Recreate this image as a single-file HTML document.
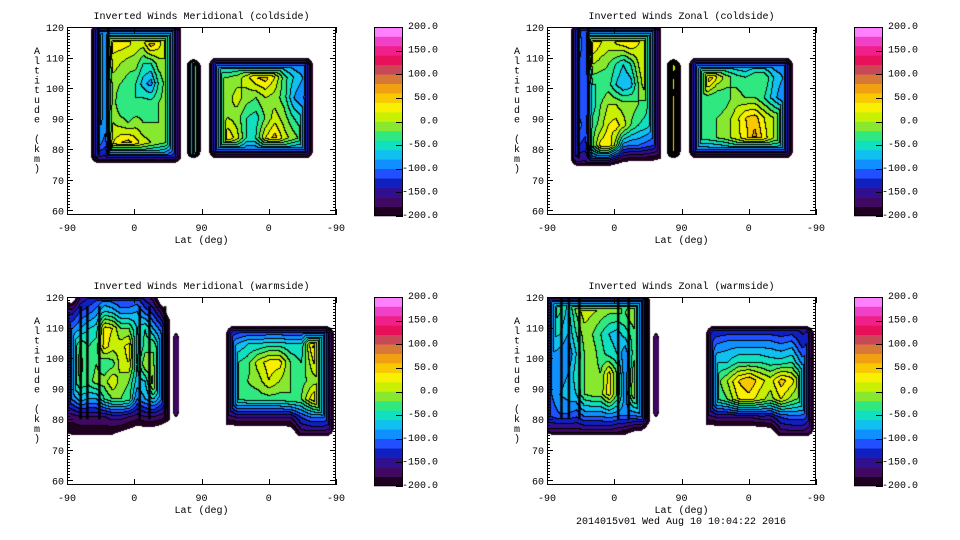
<!DOCTYPE html>
<html><head><meta charset="utf-8">
<style>
html,body{margin:0;padding:0;background:#fff;}
#root{position:relative;width:960px;height:540px;overflow:hidden;background:#fff;}
canvas{position:absolute;}
svg{position:absolute;left:0;top:0;}
text{font-family:"Liberation Mono",monospace;font-size:10px;fill:#000;}
</style></head>
<body>
<div id="root">
<canvas id="c0" width="269" height="188" style="left:67px;top:27px"></canvas>
<canvas id="c1" width="269" height="188" style="left:547px;top:27px"></canvas>
<canvas id="c2" width="269" height="188" style="left:67px;top:297px"></canvas>
<canvas id="c3" width="269" height="188" style="left:547px;top:297px"></canvas>
<svg id="ov" width="960" height="540"></svg>
</div>
<script>
const X_TICKS=[0,90,180,270,360];
const X_LABELS=['-90','0','90','0','-90'];
const Y_TICKS=[60,70,80,90,100,110,120];
const CB_LEVELS=[200,150,100,50,0,-50,-100,-150,-200];
const TITLES=['Inverted Winds Meridional (coldside)','Inverted Winds Zonal (coldside)','Inverted Winds Meridional (warmside)','Inverted Winds Zonal (warmside)'];
const COLORS=['#200020','#400860','#301090','#1020c0','#2050ff','#1090ff','#10c0f0','#10e0c0','#30e880','#88e830','#c8f000','#f8f000','#f8c800','#f0a010','#d87838','#c84858','#e8105a','#f0208a','#f040c8','#ff80ff'];

// Panel 1: meridional coldside
const p1ALat=[32,153], p1AAlt=[75.5,121];
const p1AVals=[
[20,-60,-90,30,30,30,30,10,40,30,0,-60,-130],
[30,-60,-90,30,30,25,10,10,55,30,0,-80,-130],
[30,-60,-90,10,0,-10,-10,-40,-40,-10,0,-60,-130],
[40,-60,-90,-10,-20,-30,-40,-70,-90,-40,-10,-60,-130],
[40,-60,-90,-10,-40,-40,-40,-30,-30,-20,-10,-50,-130],
[30,-70,-90,0,-10,-20,-10,-20,-20,-20,-20,-60,-130],
[-20,-90,-110,20,40,50,30,10,0,-10,-20,-70,-140],
[-120,-160,-160,-110,-120,-130,-140,-140,-140,-140,-150,-160,-170]];
const p1BLat=[160,179], p1BAlt=[77,109.5];
const p1BVals=[[-190,-60,30],[-190,-60,30],[-190,-60,30]];
const p1CLat=[190,329], p1CAlt=[77,110];
const p1CVals=[
[-150,-110,-110,-110,-100,-100,-100,-100,-110,-110,-110,-130],
[-140,-20,-20,-10,10,40,50,20,-30,-60,-80,-70],
[-140,-10,-10,10,-10,-20,0,-10,-30,-80,-100,-120],
[-140,-20,0,-10,-40,-50,-20,10,-10,-40,-60,-70],
[-140,-10,40,10,-40,-40,20,50,10,-10,-30,-40],
[-160,-140,-140,-140,-140,-140,-140,-140,-140,-140,-140,-140]];
const p1Stripes=[42,55], p1StripeAlt=[78,121];

// Panel 2: zonal coldside
const p2ALat=[32,153], p2AAlt=[74.5,121];
const p2AVals=[
[60,-100,-120,60,30,30,30,30,60,40,0,-60,-130],
[20,-80,-120,40,20,10,20,30,40,20,10,-60,-130],
[20,-100,-120,0,-10,-20,-40,-60,-40,0,30,-60,-130],
[-10,-120,-120,-40,-40,-30,-60,-80,-70,-20,20,-60,-130],
[10,-110,-120,-50,-20,0,0,-10,-10,-20,-30,-70,-130],
[20,-90,-110,-30,-10,20,30,10,-20,-40,-50,-70,-130],
[-60,-120,-130,-20,30,40,-10,-90,-100,-100,-110,-120,-150],
[-170,-170,-170,-170,-170,-200,-220,-230,-230,-230,-230,-230,-230]];
const p2BLat=[160,179], p2BAlt=[77,109.5];
const p2BVals=[[-190,0,60],[-190,60,80],[-190,60,80]];
const p2CLat=[190,329], p2CAlt=[77,110];
const p2CVals=[
[-150,-110,-110,-110,-110,-110,-110,-110,-110,-110,-110,-140],
[-140,-10,70,20,-10,-30,-40,-20,-20,-60,-80,-100],
[-140,-40,-30,-40,-30,-10,-20,-20,-40,-70,-100,-100],
[-140,-30,-20,-20,-10,10,40,50,20,0,-10,-80],
[-140,-30,-30,-20,-10,10,30,70,30,0,-10,-80],
[-160,-140,-140,-140,-140,-140,-140,-140,-140,-140,-140,-160]];
const p2Stripes=[42,55], p2StripeAlt=[77,121];

// Panel 3: meridional warmside
const p3ALat=[-4,138], p3AAlt=[75,121];
const p3AVals=[
[-250,-250,-170,-150,-140,-120,-130,-140,-140,-130,-160,-180,-260,-260],
[-140,-150,-120,-110,-90,-60,-70,-90,-90,-80,-110,-130,-170,-230],
[-110,-100,-80,-60,-50,30,20,-20,-20,-60,-40,-80,-110,-170],
[-80,-60,-20,-40,-30,30,10,10,30,-70,-30,-20,-80,-160],
[-60,-50,-10,-40,-20,-40,-30,10,20,-60,0,-20,-70,-160],
[-60,-50,-20,-30,-10,-10,20,-10,-20,-70,-60,20,-60,-160],
[-110,-100,-70,-80,-80,-40,-20,-20,-30,-100,-80,-60,-100,-170],
[-170,-170,-160,-160,-160,-160,-150,-150,-160,-170,-160,-160,-170,-190],
[-190,-200,-200,-200,-200,-200,-200,-210,-220,-230,-230,-230,-240,-250]];
const p3DLat=[142,150], p3DAlt=[80,109];
const p3DVals=[[-170,-170],[-170,-170]];
const p3CLat=[213,357], p3CAlt=[74.5,110.5];
const p3CVals=[
[-150,-150,-150,-150,-150,-150,-150,-150,-150,-150,-150],
[-120,-80,-60,-60,-50,-50,-60,-60,40,90,-60],
[-140,-40,-30,10,30,30,-20,-40,10,70,-40],
[-140,-30,-20,-10,20,0,-20,-30,-10,-10,-20],
[-140,-40,-30,-30,-30,-30,-20,-20,30,70,30],
[-170,-160,-160,-160,-160,-160,-160,-120,-100,-100,-120],
[-250,-250,-250,-250,-250,-250,-240,-180,-180,-180,-190]];
const p3Stripes=[18,27,43,97,110,131], p3StripeAlt=[80,117];

// Panel 4: zonal warmside
const p4ALat=[-4,138], p4AAlt=[75,121];
const p4AVals=[
[30,-40,-20,-60,20,60,40,20,20,10,-40,30,30,-180],
[10,-30,-40,-70,-20,10,0,-10,-20,-20,-20,0,30,-180],
[-10,-50,-60,-80,-40,-10,-20,-40,-60,-70,-50,-30,0,-180],
[-40,-80,-90,-100,-60,-20,-10,-30,-50,-60,-100,-30,0,-180],
[-60,-90,-90,-80,-50,-20,-10,-20,30,-20,-100,-10,40,-180],
[-80,-100,-80,-70,-60,-20,-10,-10,30,-20,-90,0,10,-180],
[-110,-110,-100,-100,-110,-90,-90,-90,-80,-90,-90,-90,-80,-180],
[-170,-180,-180,-180,-180,-180,-180,-180,-180,-190,-200,-220,-230,-250]];
const p4DLat=[142,150], p4DAlt=[80,109];
const p4DVals=[[-170,-170],[-170,-170]];
const p4CLat=[213,357], p4CAlt=[74.5,110.5];
const p4CVals=[
[-150,-150,-150,-150,-150,-150,-150,-150,-150,-150,-150],
[-140,-100,-90,-90,-90,-90,-90,-100,-90,-130,-100],
[-140,-60,-60,-40,-40,-40,-50,-50,-40,-90,-60],
[-140,-30,0,40,60,30,10,50,30,-20,-30],
[-140,-40,-20,20,30,10,-10,20,-10,-30,-40],
[-170,-160,-160,-160,-160,-150,-150,-120,-110,-110,-150],
[-250,-250,-250,-250,-250,-250,-240,-180,-180,-180,-190]];
const p4Stripes=[19,29,43,95,109,131,134], p4StripeAlt=[80,121];

const W=269,H=188;
const xs=t=>t*(W/360);          // local px
const ys=a=>(120-a)*3.056;      // local px

function hex(c){return [parseInt(c.substr(1,2),16),parseInt(c.substr(3,2),16),parseInt(c.substr(5,2),16)];}
const RGB=COLORS.map(hex);

function renderPanel(id,blocks,stripes,stripeAlt){
  const cv=document.getElementById(id),ctx=cv.getContext('2d');
  const band=new Int8Array(W*H).fill(-1);
  blocks.forEach(b=>{
    const px0=xs(b.lat[0]),px1=xs(b.lat[1]),py0=ys(b.alt[1]),py1=ys(b.alt[0]);
    const vals=b.vals,nR=vals.length,nC=vals[0].length,K=b.k||12,r=8;
    for(let py=Math.max(0,Math.floor(py0));py<=Math.min(H-1,Math.ceil(py1));py++){
      for(let px=Math.max(0,Math.floor(px0));px<=Math.min(W-1,Math.ceil(px1));px++){
        const cx=px+0.5,cy=py+0.5;
        const fx=(cx-px0)/(px1-px0),fy=(cy-py0)/(py1-py0);
        if(fx<0||fx>1||fy<0||fy>1)continue;
        const gx=fx*(nC-1),gy=fy*(nR-1);
        const i0=Math.min(nC-2,Math.floor(gx)),j0=Math.min(nR-2,Math.floor(gy));
        const ux=gx-i0,uy=gy-j0;
        let v=(vals[j0][i0]*(1-ux)+vals[j0][i0+1]*ux)*(1-uy)+(vals[j0+1][i0]*(1-ux)+vals[j0+1][i0+1]*ux)*uy;
        const dx=Math.min(cx-px0,px1-cx),dy=Math.min(cy-py0,py1-cy);
        let d=Math.min(dx,dy);
        if(dx<r&&dy<r)d=r-Math.hypot(r-dx,r-dy);
        v=Math.min(v,-200+d*K);
        if(v<-200)continue;
        band[py*W+px]=Math.min(19,Math.floor((v+200)/20));
      }
    }
  });
  const img=ctx.createImageData(W,H);
  for(let y=0;y<H;y++)for(let x=0;x<W;x++){
    const i=y*W+x,b=band[i];if(b<0)continue;
    let black=false;
    if(x<W-1&&band[i+1]>=0&&band[i+1]!==b)black=true;
    if(y<H-1&&band[i+W]>=0&&band[i+W]!==b)black=true;
    const c=black?[0,0,0]:RGB[b];
    img.data[i*4]=c[0];img.data[i*4+1]=c[1];img.data[i*4+2]=c[2];img.data[i*4+3]=255;
  }
  ctx.putImageData(img,0,0);
  ctx.fillStyle='#000';
  stripes.forEach(s=>{
    const y0=ys(stripeAlt[1]),y1=ys(stripeAlt[0]);
    ctx.fillRect(xs(s)-1,y0,2.5,y1-y0);
  });
}
renderPanel('c0',[{lat:p1ALat,alt:p1AAlt,vals:p1AVals},{lat:p1BLat,alt:p1BAlt,vals:p1BVals,k:40},{lat:p1CLat,alt:p1CAlt,vals:p1CVals}],p1Stripes,p1StripeAlt);
renderPanel('c1',[{lat:p2ALat,alt:p2AAlt,vals:p2AVals},{lat:p2BLat,alt:p2BAlt,vals:p2BVals,k:40},{lat:p2CLat,alt:p2CAlt,vals:p2CVals}],p2Stripes,p2StripeAlt);
renderPanel('c2',[{lat:p3ALat,alt:p3AAlt,vals:p3AVals},{lat:p3DLat,alt:p3DAlt,vals:p3DVals,k:40},{lat:p3CLat,alt:p3CAlt,vals:p3CVals}],p3Stripes,p3StripeAlt);
renderPanel('c3',[{lat:p4ALat,alt:p4AAlt,vals:p4AVals},{lat:p4DLat,alt:p4DAlt,vals:p4DVals,k:40},{lat:p4CLat,alt:p4CAlt,vals:p4CVals}],p4Stripes,p4StripeAlt);

// Axes overlay
const NS='http://www.w3.org/2000/svg';
const svg=document.getElementById('ov');
function el(tag,attrs,parent){const e=document.createElementNS(NS,tag);for(const k in attrs)e.setAttribute(k,attrs[k]);(parent||svg).appendChild(e);return e;}
const ORIGINS=[[67,27],[547,27],[67,297],[547,297]];
ORIGINS.forEach((o,p)=>{
  const L=o[0],T=o[1];
  const g=el('g',{});
  
  
  const box=el('rect',{x:L+0.5,y:T+0.5,width:W-1,height:H-1,fill:'none',stroke:'#000','stroke-width':1},g);
  
  
  for(let a=60;a<=120;a++){
    const y=Math.round(T+ys(a))+0.5,len=(a%10===0)?6:3;
    el('line',{x1:L,y1:y,x2:L+len,y2:y,stroke:'#000'},g);
    el('line',{x1:L+W-len,y1:y,x2:L+W,y2:y,stroke:'#000'},g);
  }
  X_TICKS.forEach((t,i)=>{
    const x=Math.round(L+xs(t))+0.5;
    el('line',{x1:x,y1:T+H-6,x2:x,y2:T+H,stroke:'#000'},g);
    el('line',{x1:x,y1:T,x2:x,y2:T+6,stroke:'#000'},g);
    const tx=el('text',{x:L+xs(t),y:T+204,'text-anchor':'middle'},g);
    tx.textContent=X_LABELS[i];
    
    
  });
  Y_TICKS.forEach(a=>{
    const tx=el('text',{x:L-3,y:T+ys(a)+4,'text-anchor':'end'},g);
    tx.textContent=String(a);
    
    
  });
  const ti=el('text',{x:L+W/2,y:T-8,'text-anchor':'middle'},g);
  ti.textContent=TITLES[p];
  
  
  const xt=el('text',{x:L+W/2,y:T+216,'text-anchor':'middle'},g);
  xt.textContent='Lat (deg)';
  
  
  const yt=el('g',{},g);
  
  
  'Altitude (km)'.split('').forEach((ch,i)=>{
    const c=el('text',{x:L-30,y:T+27+i*9.8,'text-anchor':'middle'},yt);
    c.textContent=ch;
  });
  // colorbar
  const cb=el('g',{},g);
  
  
  const cbx=L+307,cbw=29,cbh=189,bh=cbh/COLORS.length;
  COLORS.forEach((c,i)=>{
    el('rect',{x:cbx,y:T+cbh-(i+1)*bh,width:cbw,height:bh+0.3,fill:c},cb);
  });
  el('rect',{x:cbx+0.5,y:T+0.5,width:cbw-1,height:cbh-1,fill:'none',stroke:'#000'},cb);
  CB_LEVELS.forEach(v=>{
    const y=T+(200-v)/400*cbh;
    el('line',{x1:cbx+cbw-7,y1:Math.round(y)+0.5,x2:cbx+cbw,y2:Math.round(y)+0.5,stroke:'#000'},cb);
    const lt=el('text',{x:L+371,y:y+2,'text-anchor':'end'},cb);
    lt.textContent=v.toFixed(1);
    
    
  });
});
const ft=el('text',{x:681,y:524,'text-anchor':'middle'});
ft.textContent='2014015v01 Wed Aug 10 10:04:22 2016';


</script>
</body></html>
